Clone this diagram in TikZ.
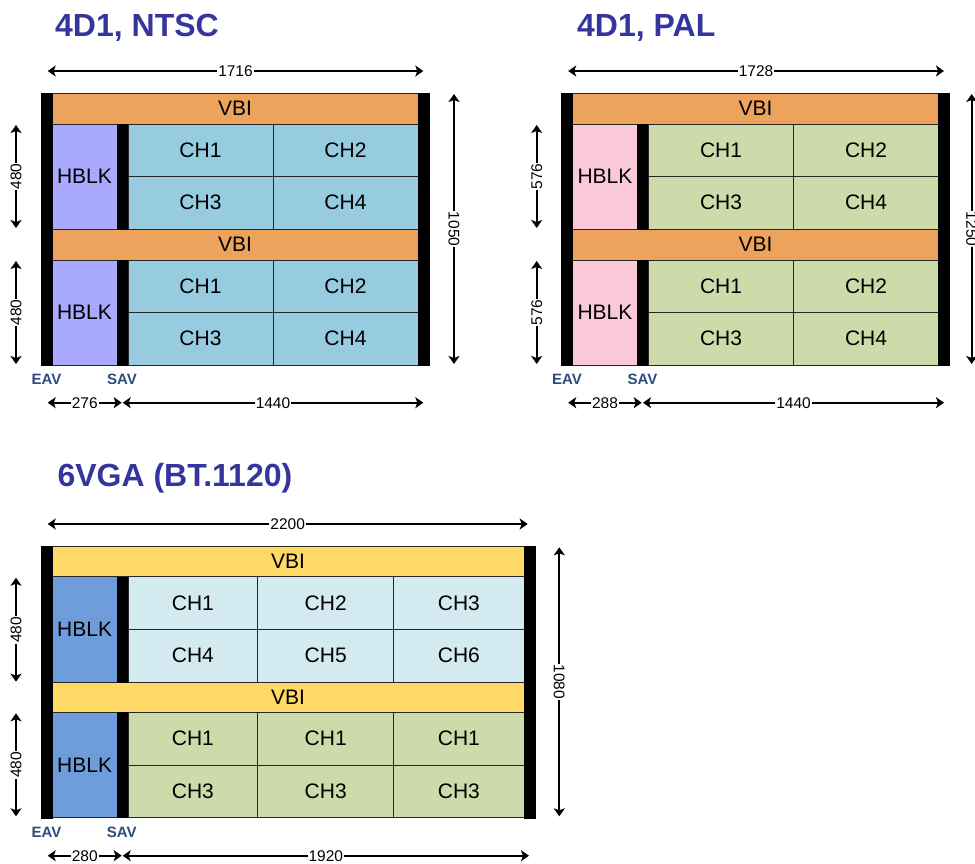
\documentclass[tikz,border=0pt]{standalone}
\usepackage{fontspec}
\setmainfont{Liberation Sans}
\usepackage{xcolor}
\usetikzlibrary{arrows.meta, positioning}
\definecolor{vbiorange}{HTML}{EDA35B}
\definecolor{vbiyellow}{HTML}{FFD966}
\definecolor{ntsclilac}{HTML}{A9A9FF}
\definecolor{ntscblue}{HTML}{97CBE0}
\definecolor{palpink}{HTML}{F9C9D9}
\definecolor{chgreen}{HTML}{CCDBA9}
\definecolor{vgablue}{HTML}{6F9CDA}
\definecolor{vgaice}{HTML}{D3EAF0}
\definecolor{titleblue}{HTML}{35359E}
\definecolor{syncblue}{HTML}{2B4C7E}

\begin{document}
\begin{tikzpicture}[x=1pt, y=-1pt,
	bar/.style={fill=black, draw=black, inner sep=0, outer sep=0, anchor=north west},
	cell/.style={draw=black!85, line width=0.9pt, inner sep=0, outer sep=0, anchor=north west, font=\fontsize{21}{24}\selectfont},
	dim/.style={{Stealth[length=8pt,width=11pt,inset=2pt]}-{Stealth[length=8pt,width=11pt,inset=2pt]}, line width=2pt},
	dimlab/.style={fill=white, inner sep=1pt, font=\fontsize{15.5}{17}\selectfont},
	synclab/.style={text=syncblue, inner sep=0, font=\bfseries\fontsize{15}{17}\selectfont},
	title/.style={text=titleblue, inner sep=0, anchor=base west, font=\bfseries\fontsize{32}{36}\selectfont}]
	\useasboundingbox (0,0) rectangle (975,863);

	% 4D1, NTSC
	\node[title] (ntsc-title) at (55,36.7) {4D1, NTSC};
	\foreach \n/\y in {1/93,2/229}{\node[cell, fill=vbiorange, minimum width=366pt, minimum height=31pt] (ntsc-vbi\n) at (52,\y) {VBI};}
	\foreach \n/\y in {1/124,2/260}{
		\node[cell, fill=ntsclilac, minimum width=65pt, minimum height=105pt] (ntsc-hblk\n) at (52,\y) {HBLK};
		\node[bar, minimum width=11pt, minimum height=105pt] (ntsc-sav\n) at (117,\y) {};}
	\foreach \k/\y/\a/\b in {1/124/1/2,2/176.5/3/4,3/260/1/2,4/312.5/3/4}{
		\node[cell, fill=ntscblue, minimum width=145pt, minimum height=52.5pt] (ntsc-ch\k-a) at (128,\y) {CH\a};
		\node[cell, fill=ntscblue, minimum width=145pt, minimum height=52.5pt] (ntsc-ch\k-b) at (273,\y) {CH\b};}
	\node[bar, minimum width=11pt, minimum height=272pt] (ntsc-eav) at (41,93) {};
	\node[bar, minimum width=11pt, minimum height=272pt] (ntsc-end) at (418,93) {};
	\node[synclab] (ntsc-eavlab) at (46.5,379) {EAV};
	\node[synclab] (ntsc-savlab) at (122,379) {SAV};
	\coordinate (ntsc-t0) at (47.7,71); \coordinate (ntsc-t1) at (423.3,71);
	\coordinate (ntsc-r0) at (454,94); \coordinate (ntsc-r1) at (454,364);
	\coordinate (ntsc-l0) at (16,125); \coordinate (ntsc-l1) at (16,228);
	\coordinate (ntsc-l2) at (16,261); \coordinate (ntsc-l3) at (16,364);
	\coordinate (ntsc-b0) at (47.7,402.7); \coordinate (ntsc-b1) at (121.7,402.7);
	\coordinate (ntsc-b2) at (122.7,402.7); \coordinate (ntsc-b3) at (423.3,402.7);
	\draw[dim] (ntsc-t0) -- node[dimlab]{1716} (ntsc-t1);
	\draw[dim] (ntsc-r0) -- node[dimlab, rotate=-90]{1050} (ntsc-r1);
	\draw[dim] (ntsc-l0) -- node[dimlab, rotate=90]{480} (ntsc-l1);
	\draw[dim] (ntsc-l2) -- node[dimlab, rotate=90]{480} (ntsc-l3);
	\draw[dim] (ntsc-b0) -- node[dimlab]{276} (ntsc-b1);
	\draw[dim] (ntsc-b2) -- node[dimlab]{1440} (ntsc-b3);

	% 4D1, PAL
	\begin{scope}[xshift=520.5pt]
		\node[title] (pal-title) at (56.5,36.7) {4D1, PAL};
		\foreach \n/\y in {1/93,2/229}{\node[cell, fill=vbiorange, minimum width=366pt, minimum height=31pt] (pal-vbi\n) at (52,\y) {VBI};}
		\foreach \n/\y in {1/124,2/260}{
			\node[cell, fill=palpink, minimum width=65pt, minimum height=105pt] (pal-hblk\n) at (52,\y) {HBLK};
			\node[bar, minimum width=11pt, minimum height=105pt] (pal-sav\n) at (117,\y) {};}
		\foreach \k/\y/\a/\b in {1/124/1/2,2/176.5/3/4,3/260/1/2,4/312.5/3/4}{
			\node[cell, fill=chgreen, minimum width=145pt, minimum height=52.5pt] (pal-ch\k-a) at (128,\y) {CH\a};
			\node[cell, fill=chgreen, minimum width=145pt, minimum height=52.5pt] (pal-ch\k-b) at (273,\y) {CH\b};}
		\node[bar, minimum width=11pt, minimum height=272pt] (pal-eav) at (41,93) {};
		\node[bar, minimum width=11pt, minimum height=272pt] (pal-end) at (418,93) {};
		\node[synclab] (pal-eavlab) at (46.5,379) {EAV};
		\node[synclab] (pal-savlab) at (122,379) {SAV};
		\coordinate (pal-t0) at (47.7,71); \coordinate (pal-t1) at (423.5,71);
		\coordinate (pal-r0) at (451.2,94); \coordinate (pal-r1) at (451.2,364);
		\coordinate (pal-l0) at (16.2,125); \coordinate (pal-l1) at (16.2,228);
		\coordinate (pal-l2) at (16.2,261); \coordinate (pal-l3) at (16.2,364);
		\coordinate (pal-b0) at (47.7,402.7); \coordinate (pal-b1) at (121.2,402.7);
		\coordinate (pal-b2) at (122.5,402.7); \coordinate (pal-b3) at (423.5,402.7);
		\draw[dim] (pal-t0) -- node[dimlab]{1728} (pal-t1);
		\draw[dim] (pal-r0) -- node[dimlab, rotate=-90]{1250} (pal-r1);
		\draw[dim] (pal-l0) -- node[dimlab, rotate=90]{576} (pal-l1);
		\draw[dim] (pal-l2) -- node[dimlab, rotate=90]{576} (pal-l3);
		\draw[dim] (pal-b0) -- node[dimlab]{288} (pal-b1);
		\draw[dim] (pal-b2) -- node[dimlab]{1440} (pal-b3);
	\end{scope}

	% 6VGA (BT.1120)
	\node[title] (vga-title) at (57.3,486.7) {6VGA (BT.1120)};
	\foreach \n/\y in {1/546.3,2/682}{\node[cell, fill=vbiyellow, minimum width=472pt, minimum height=30.4pt] (vga-vbi\n) at (52,\y) {VBI};}
	\foreach \n/\y in {1/576.7,2/712.3}{
		\node[cell, fill=vgablue, minimum width=65.3pt, minimum height=105.3pt] (vga-hblk\n) at (52,\y) {HBLK};
		\node[bar, minimum width=10.7pt, minimum height=105.3pt] (vga-sav\n) at (117.3,\y) {};}
	\foreach \k/\y/\f/\a/\b/\c in {1/576.7/vgaice/1/2/3,2/629.3/vgaice/4/5/6,3/712.3/chgreen/1/1/1,4/765/chgreen/3/3/3}{
		\node[cell, fill=\f, minimum width=129.7pt, minimum height=52.65pt] (vga-ch\k-a) at (128,\y) {CH\a};
		\node[cell, fill=\f, minimum width=136pt, minimum height=52.65pt] (vga-ch\k-b) at (257.7,\y) {CH\b};
		\node[cell, fill=\f, minimum width=130.3pt, minimum height=52.65pt] (vga-ch\k-c) at (393.7,\y) {CH\c};}
	\node[bar, minimum width=11pt, minimum height=271.4pt] (vga-eav) at (41,546.3) {};
	\node[bar, minimum width=11pt, minimum height=271.4pt] (vga-end) at (524,546.3) {};
	\node[synclab] (vga-eavlab) at (46.5,832.3) {EAV};
	\node[synclab] (vga-savlab) at (121.8,832.3) {SAV};
	\coordinate (vga-t0) at (47.7,524); \coordinate (vga-t1) at (527.7,524);
	\coordinate (vga-r0) at (559.3,547.3); \coordinate (vga-r1) at (559.3,816.3);
	\coordinate (vga-l0) at (16,577.7); \coordinate (vga-l1) at (16,681.7);
	\coordinate (vga-l2) at (16,713.3); \coordinate (vga-l3) at (16,816.3);
	\coordinate (vga-b0) at (47.7,855.7); \coordinate (vga-b1) at (121.7,855.7);
	\coordinate (vga-b2) at (122.7,855.7); \coordinate (vga-b3) at (529,855.7);
	\draw[dim] (vga-t0) -- node[dimlab]{2200} (vga-t1);
	\draw[dim] (vga-r0) -- node[dimlab, rotate=-90]{1080} (vga-r1);
	\draw[dim] (vga-l0) -- node[dimlab, rotate=90]{480} (vga-l1);
	\draw[dim] (vga-l2) -- node[dimlab, rotate=90]{480} (vga-l3);
	\draw[dim] (vga-b0) -- node[dimlab]{280} (vga-b1);
	\draw[dim] (vga-b2) -- node[dimlab]{1920} (vga-b3);
\end{tikzpicture}
\end{document}
